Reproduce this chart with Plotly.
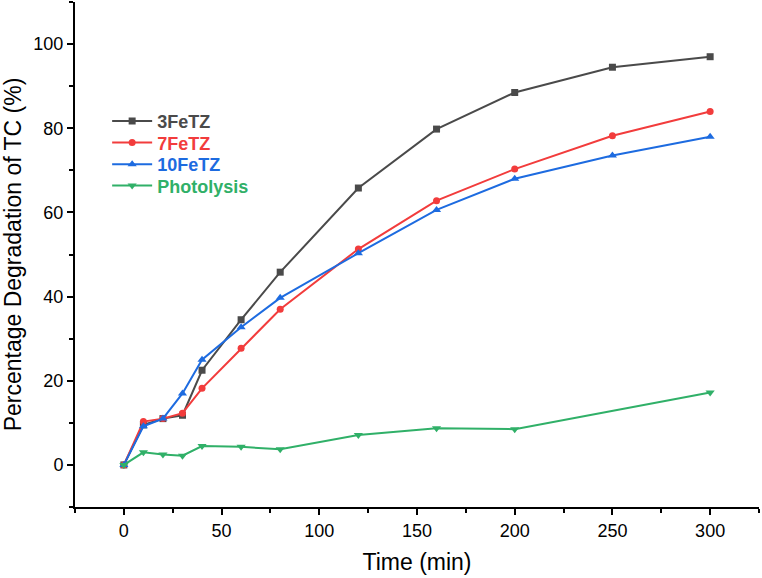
import plotly.graph_objects as go

time = [0, 10, 20, 30, 40, 60, 80, 120, 160, 200, 250, 300]
fe3 = [0, 9.5, 11.0, 11.8, 22.5, 34.5, 45.8, 65.8, 79.8, 88.5, 94.5, 97.0]
fe7 = [0, 10.3, 11.0, 12.3, 18.2, 27.7, 37.0, 51.3, 62.8, 70.3, 78.2, 84.0]
fe10 = [0, 9.2, 11.0, 17.0, 25.0, 32.7, 39.7, 50.3, 60.6, 68.0, 73.5, 78.0]
photo_time = [0, 10, 20, 30, 40, 60, 80, 120, 160, 200, 300]
photo = [0, 3.0, 2.5, 2.2, 4.5, 4.3, 3.7, 7.1, 8.7, 8.5, 17.2]

names = ["3FeTZ", "7FeTZ", "10FeTZ", "Photolysis"]
colors = ["#4a4a4a", "#f23c3c", "#1d6be0", "#30b068"]
symbols = ["square", "circle", "triangle-up", "triangle-down"]
sizes = [7, 7, 8, 8]
xs = [time, time, time, photo_time]
ys = [fe3, fe7, fe10, photo]
legend_ids = ["legend", "legend2", "legend3", "legend4"]
legend_rows = [0.764, 0.721, 0.678, 0.636]

font_family = "Liberation Sans, Arial"

fig = go.Figure()
for n, c, s, sz, x, y, lg in zip(names, colors, symbols, sizes, xs, ys, legend_ids):
    fig.add_trace(go.Scatter(
        x=x, y=y, mode="lines+markers",
        name=f"<b><span style='color:{c}'>{n}</span></b>",
        line=dict(color=c, width=2),
        marker=dict(symbol=s, size=sz, color=c),
        legend=lg, showlegend=True,
    ))

axis_common = dict(
    showline=True, linecolor="black", linewidth=2,
    ticks="outside", tickwidth=2, ticklen=6, tickcolor="black",
    showgrid=False, zeroline=False, mirror=False, automargin=False,
    tickfont=dict(family=font_family, size=18, color="black"),
)
fig.update_xaxes(range=[-25, 325], tick0=0, dtick=50,
                 minor=dict(ticks="outside", dtick=25, tick0=0, ticklen=4, tickwidth=2, tickcolor="black"),
                 title=dict(text="Time (min)", font=dict(family=font_family, size=23, color="black"), standoff=14),
                 **axis_common)
fig.update_yaxes(range=[-10, 110], tick0=0, dtick=20,
                 minor=dict(ticks="outside", dtick=10, tick0=0, ticklen=4, tickwidth=2, tickcolor="black"),
                 title=dict(text="Percentage Degradation of TC (%)", font=dict(family=font_family, size=23, color="black"), standoff=12),
                 **axis_common)

legend_layout = {}
for lg, ry in zip(legend_ids, legend_rows):
    legend_layout[lg] = dict(x=0.047, y=ry, xanchor="left", yanchor="middle",
                             font=dict(family=font_family, size=18),
                             bgcolor="rgba(0,0,0,0)", itemwidth=40, visible=True)

fig.update_layout(
    width=762, height=578,
    margin=dict(l=75, r=3, t=2, b=71),
    plot_bgcolor="white", paper_bgcolor="white",
    showlegend=True,
    **legend_layout,
)
fig.write_html("out.html", config={"displayModeBar": False},
               post_script="document.body.style.margin='0';")
